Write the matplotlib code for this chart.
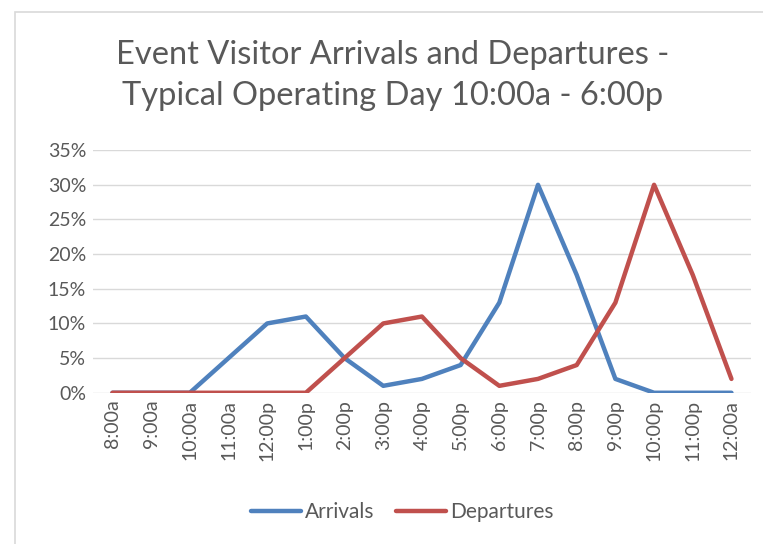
import matplotlib
matplotlib.use("Agg")
from matplotlib import pyplot as plt
from matplotlib.patches import Rectangle
from matplotlib.ticker import PercentFormatter

times = ['8:00a', '9:00a', '10:00a', '11:00a', '12:00p', '1:00p', '2:00p', '3:00p',
         '4:00p', '5:00p', '6:00p', '7:00p', '8:00p', '9:00p', '10:00p', '11:00p', '12:00a']
arrivals = [0, 0, 0, 5, 10, 11, 5, 1, 2, 4, 13, 30, 17, 2, 0, 0, 0]
departures = [0, 0, 0, 0, 0, 0, 5, 10, 11, 5, 1, 2, 4, 13, 30, 17, 2]

plt.rcParams['font.family'] = ['Lato', 'DejaVu Sans']
text_color = '#595959'

fig = plt.figure(figsize=(7.63, 5.44), dpi=100)
ax = fig.add_axes([0.122, 0.278, 0.862, 0.446])

x = range(len(times))
ax.plot(x, [v / 100 for v in arrivals], color='#4F81BD', lw=3.2, label='Arrivals',
        solid_joinstyle='round', solid_capstyle='round')
ax.plot(x, [v / 100 for v in departures], color='#C0504D', lw=3.2, label='Departures',
        solid_joinstyle='round', solid_capstyle='round')

ax.set_xlim(-0.5, len(times) - 0.5)
ax.set_ylim(0, 0.35)
ax.set_yticks([i * 0.05 for i in range(8)])
ax.yaxis.set_major_formatter(PercentFormatter(1.0, decimals=0))
ax.set_xticks(list(x))
ax.set_xticklabels(times, rotation=90)
ax.tick_params(length=0, labelsize=14, colors=text_color, pad=5)
ax.grid(axis='y', color='#D9D9D9', lw=1)
ax.set_axisbelow(True)
for s in ax.spines.values():
    s.set_visible(False)

fig.text(0.515, 0.861, 'Event Visitor Arrivals and Departures -\nTypical Operating Day 10:00a - 6:00p',
         ha='center', va='center', fontsize=23.5, color=text_color, linespacing=1.45)

fig.legend(loc='center', bbox_to_anchor=(0.527, 0.059), ncol=2, frameon=False,
           fontsize=15, labelcolor=text_color, handlelength=2.4, handletextpad=0.2,
           columnspacing=1.0)

fig.patches.append(Rectangle((0.0197, -0.1), 1.2, 1.078, transform=fig.transFigure,
                             fill=False, edgecolor='#D9D9D9', lw=1.2))

fig.savefig('out.png', dpi=100)
